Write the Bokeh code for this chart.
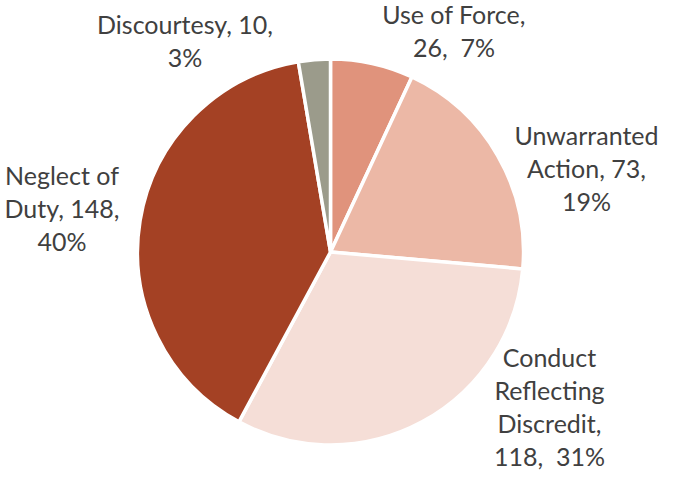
import math
from bokeh.plotting import figure
from bokeh.models import Range1d, ColumnDataSource
from bokeh.core.properties import value
from bokeh.embed import file_html
from bokeh.resources import INLINE

categories = ["Use of Force", "Unwarranted Action", "Conduct Reflecting Discredit", "Neglect of Duty", "Discourtesy"]
counts = [26, 73, 118, 148, 10]
colors = ["#E0937C", "#ECB8A6", "#F5DED7", "#A44124", "#9B9B8B"]
NB = "\u00a0"
labels = ["Use of Force,\n26," + NB + " 7%", "Unwarranted\nAction, 73,\n19%",
          "Conduct\nReflecting\nDiscredit,\n118," + NB + " 31%",
          "Neglect of\nDuty, 148,\n40%", "Discourtesy, 10,\n3%"]
# label anchor: center x, first-line position (pixels from top-left)
label_x = [453.5, 586, 549, 61.5, 184.5]
label_y0 = [13, 134, 356, 174, 23]
line_step = 33

W, H = 661, 473
p = figure(width=W, height=H, output_backend="svg", toolbar_location=None,
           x_range=Range1d(0, W), y_range=Range1d(0, H), min_border=0)
p.axis.visible = False
p.grid.visible = False
p.outline_line_color = None
p.background_fill_color = "white"

def ty(y):
    return H - y

cx, cy, r = 330, ty(251.5), 193
total = sum(counts)
starts, ends = [], []
cum = 0
for c in counts:
    starts.append(math.pi / 2 - 2 * math.pi * cum / total)
    cum += c
    ends.append(math.pi / 2 - 2 * math.pi * cum / total)

src = ColumnDataSource(dict(start=starts, end=ends, color=colors, cat=categories))
p.wedge(x=cx, y=cy, radius=r, start_angle="start", end_angle="end", direction="clock",
        fill_color="color", line_color="white", line_width=3.5, source=src)

xs, ys, ts = [], [], []
for lab, lx, ly in zip(labels, label_x, label_y0):
    for i, line in enumerate(lab.split("\n")):
        xs.append(lx)
        ys.append(ty(ly + i * line_step))
        ts.append(line)
lsrc = ColumnDataSource(dict(x=xs, y=ys, text=ts))
p.text(x="x", y="y", text="text", source=lsrc, text_align="center", text_baseline="alphabetic",
       text_font=value("Lato"), text_font_size="25px", text_color="#404040")

open("out.html", "w").write(file_html(p, INLINE))
